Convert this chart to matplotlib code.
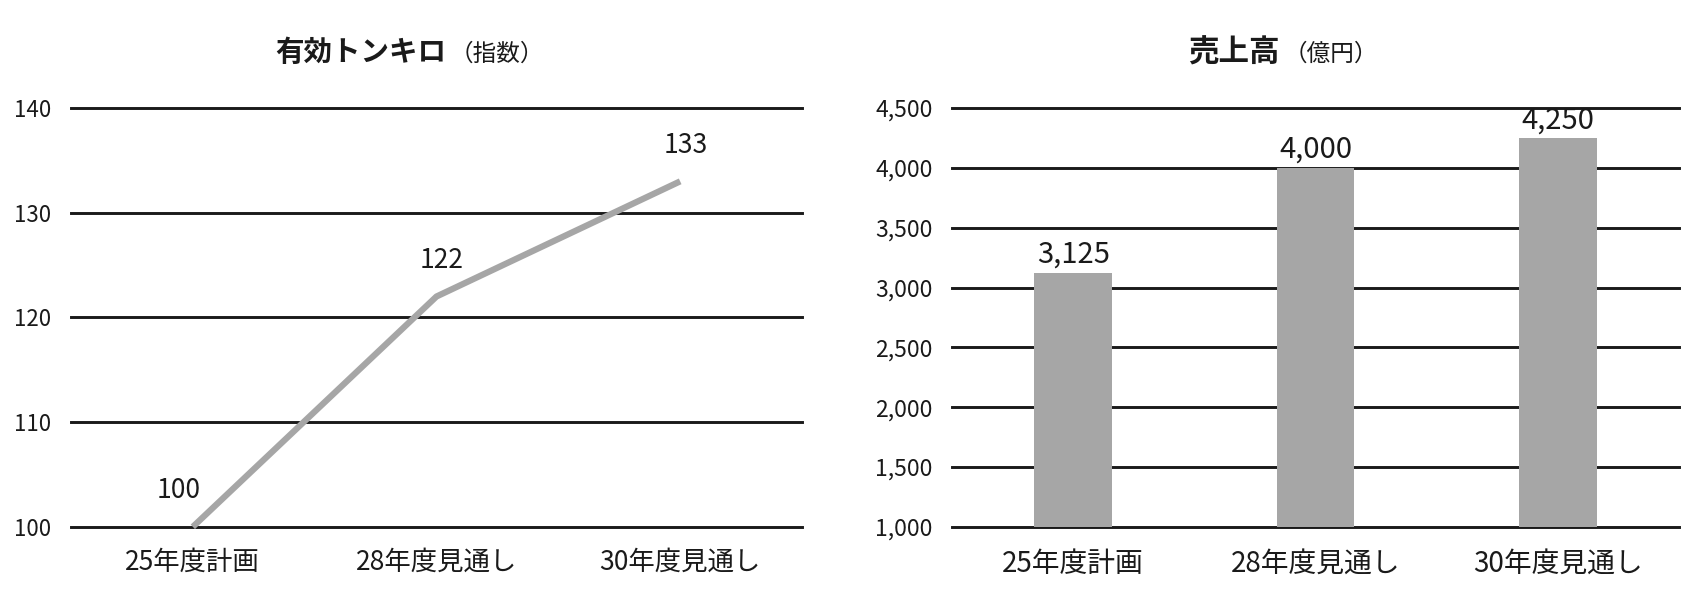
import matplotlib
matplotlib.use('Agg')
import matplotlib.pyplot as plt
import numpy as np

plt.rcParams['font.family'] = ['Noto Sans CJK JP', 'DejaVu Sans']

# data
categories = ["25年度計画", "28年度見通し", "30年度見通し"]
tonkilo_index = [100, 122, 133]
sales = [3125, 4000, 4250]
left_ticks = [100, 110, 120, 130, 140]
right_ticks = [1000, 1500, 2000, 2500, 3000, 3500, 4000, 4500]

GREY = "#a6a6a6"
INK = "#1a1a1a"

fig = plt.figure(figsize=(17, 6.14), dpi=100)
ax1 = fig.add_axes([71 / 1700, 0.142, (802 - 71) / 1700, 0.824 - 0.142])
ax2 = fig.add_axes([952 / 1700, 0.142, (1679 - 952) / 1700, 0.824 - 0.142])

x = np.arange(len(categories))


def style(ax, ticks, fmt, ysize, xsize):
    ax.set_xlim(-0.5, len(categories) - 0.5)
    ax.set_ylim(ticks[0], ticks[-1])
    for t in ticks:
        ax.axhline(t, color=INK, lw=2.1, zorder=0, clip_on=False)
    ax.set_yticks(ticks)
    ax.set_yticklabels([fmt(t) for t in ticks], fontsize=ysize, color=INK)
    ax.set_xticks(x)
    ax.set_xticklabels(categories, fontsize=xsize, color=INK)
    ax.tick_params(axis='y', length=0, pad=14)
    ax.tick_params(axis='x', length=0, pad=16)
    for s in ax.spines.values():
        s.set_visible(False)


# left: line chart
style(ax1, left_ticks, lambda t: str(t), 16, 19)
ax1.plot(x, tonkilo_index, color=GREY, lw=4.5, zorder=3, clip_on=False,
         solid_capstyle='butt')
for xi, v in zip(x, tonkilo_index):
    ax1.annotate(str(v), (xi, v), xytext=(4 if xi > 0 else -10, 26),
                 textcoords='offset points', ha='center', va='center',
                 fontsize=19, color=INK)

# right: bar chart
style(ax2, right_ticks, lambda t: f"{t:,}", 16.5, 20)
ax2.bar(x, sales, width=0.32, color=GREY, zorder=2)
for xi, v in zip(x, sales):
    ax2.annotate(f"{v:,}", (xi, v), xytext=(0, 2), textcoords='offset points',
                 ha='center', va='bottom', fontsize=21, color=INK)

# titles (bold main part + normal unit part)
fig.text(446 / 1700, 0.914, "有効トンキロ", ha='right', va='center',
         fontsize=20.5, fontweight='bold', color=INK)
fig.text(450 / 1700, 0.912, "（指数）", ha='left', va='center',
         fontsize=17, color=INK)
fig.text(1280 / 1700, 0.914, "売上高", ha='right', va='center',
         fontsize=22, fontweight='bold', color=INK)
fig.text(1284 / 1700, 0.912, "（億円）", ha='left', va='center',
         fontsize=17, color=INK)

fig.savefig("out.png", dpi=100, facecolor='white')
plt.close(fig)
